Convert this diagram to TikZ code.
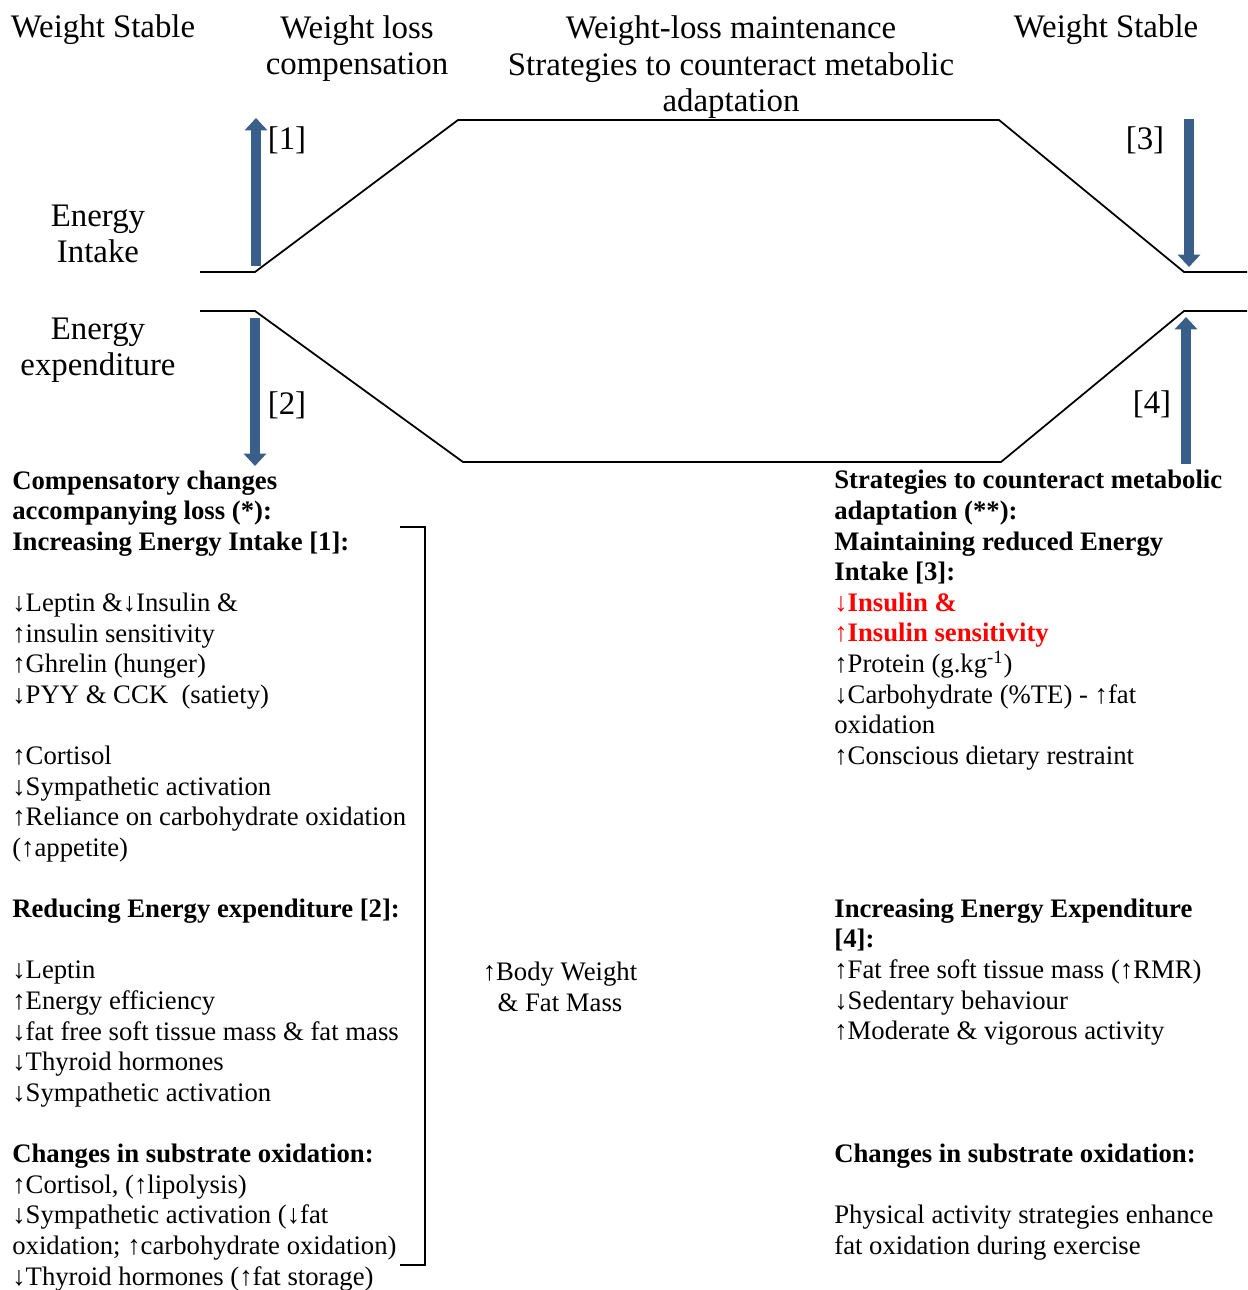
\documentclass[tikz,border=0pt]{standalone}
\usepackage{fontspec}
\setmainfont{Liberation Serif}
\usepackage{xcolor}
\usetikzlibrary{arrows.meta, positioning}
\definecolor{barblue}{RGB}{58,94,138}
\definecolor{hired}{RGB}{255,0,0}
\tikzset{
    head/.style={font=\fontsize{18.7}{21}\selectfont, align=center, inner sep=0pt}, % column heads and side labels
    body/.style={font=\fontsize{15.2}{17.42}\selectfont, align=left, inner sep=0pt, anchor=base west}, % the two lists (base = last line)
    level/.style={line width=1pt, black}, % intake / expenditure levels
    shiftarrow/.style={line width=5.5pt, barblue, -{Triangle[width=12.5pt,length=7pt]}}, % blue arrows
}

\begin{document}
\begin{tikzpicture}[x=0.02cm, y=-0.02cm]
    \useasboundingbox (0,0) rectangle (1247,1290);

    % Heads (placed by the baseline of their last line)
    \node[head, anchor=base] (ws1) at (103,38) {Weight Stable};
    \node[head, anchor=base] (wlc) at (357,75) {Weight loss\\compensation};
    \node[head, anchor=base] (wlm) at (731,112) {Weight-loss maintenance\\Strategies to counteract metabolic\\adaptation};
    \node[head, anchor=base] (ws2) at (1106,38) {Weight Stable};
    \node[head, anchor=base] (ei) at (98,263) {Energy\\Intake};
    \node[head, anchor=base] (ee) at (98,376) {Energy\\expenditure};

    % Levels
    \coordinate (i0) at (200,272);
    \coordinate (i1) at (255,272);
    \coordinate (i2) at (458,120);
    \coordinate (i3) at (999,120);
    \coordinate (i4) at (1184,272);
    \coordinate (i5) at (1247,272);
    \coordinate (e0) at (200,311);
    \coordinate (e1) at (255,311);
    \coordinate (e2) at (463,462);
    \coordinate (e3) at (1001,462);
    \coordinate (e4) at (1184,311);
    \coordinate (e5) at (1247,311);
    \draw[level] (i0) -- (i1) -- (i2) -- (i3) -- (i4) -- (i5);
    \draw[level] (e0) -- (e1) -- (e2) -- (e3) -- (e4) -- (e5);

    % Arrows
    \coordinate (a1s) at (256,266);
    \coordinate (a1e) at (256,118);
    \coordinate (a2s) at (255,318);
    \coordinate (a2e) at (255,466);
    \coordinate (a3s) at (1189,119);
    \coordinate (a3e) at (1189,267);
    \coordinate (a4s) at (1186,464);
    \coordinate (a4e) at (1186,317);
    \draw[shiftarrow] (a1s) -- (a1e);
    \draw[shiftarrow] (a2s) -- (a2e);
    \draw[shiftarrow] (a3s) -- (a3e);
    \draw[shiftarrow] (a4s) -- (a4e);
    \node[head] (n1) at (287,140) {[1]};
    \node[head] (n2) at (287,405) {[2]};
    \node[head] (n3) at (1145,140) {[3]};
    \node[head] (n4) at (1152,404) {[4]};

    % Compensation list
    \node[body] (comp) at (12,1285) {\textbf{Compensatory changes}\\
        \textbf{accompanying loss (*):}\\
        \textbf{Increasing Energy Intake [1]:}\\
        \mbox{}\\
        ↓Leptin \&↓Insulin \&\\
        ↑insulin sensitivity\\
        ↑Ghrelin (hunger)\\
        ↓PYY \& CCK \ (satiety)\\
        \mbox{}\\
        ↑Cortisol\\
        ↓Sympathetic activation\\
        ↑Reliance on carbohydrate oxidation\\
        (↑appetite)\\
        \mbox{}\\
        \textbf{Reducing Energy expenditure [2]:}\\
        \mbox{}\\
        ↓Leptin\\
        ↑Energy efficiency\\
        ↓fat free soft tissue mass \& fat mass\\
        ↓Thyroid hormones\\
        ↓Sympathetic activation\\
        \mbox{}\\
        \textbf{Changes in substrate oxidation:}\\
        ↑Cortisol, (↑lipolysis)\\
        ↓Sympathetic activation (↓fat\\
        oxidation; ↑carbohydrate oxidation)\\
        ↓Thyroid hormones (↑fat storage)};

    % Bracket
    \coordinate (b0) at (400,527);
    \coordinate (b1) at (425,527);
    \coordinate (b2) at (425,1265);
    \coordinate (b3) at (400,1265);
    \draw[level] (b0) -- (b1) -- (b2) -- (b3);

    % Middle
    \node[body, anchor=base, align=center] (bw) at (560,1011) {↑Body Weight\\\& Fat Mass};

    % Strategies list
    \node[body] (strat) at (834,1254) {\textbf{Strategies to counteract metabolic}\\
        \textbf{adaptation (**):}\\
        \textbf{Maintaining reduced Energy}\\
        \textbf{Intake [3]:}\\
        \textcolor{hired}{↓\textbf{Insulin \&}}\\
        \textcolor{hired}{↑\textbf{Insulin sensitivity}}\\
        ↑Protein (g.kg\textsuperscript{-1})\\
        ↓Carbohydrate (\%TE) - ↑fat\\
        oxidation\\
        ↑Conscious dietary restraint\\
        \mbox{}\\
        \mbox{}\\
        \mbox{}\\
        \mbox{}\\
        \textbf{Increasing Energy Expenditure}\\
        \textbf{[4]:}\\
        ↑Fat free soft tissue mass (↑RMR)\\
        ↓Sedentary behaviour\\
        ↑Moderate \& vigorous activity\\
        \mbox{}\\
        \mbox{}\\
        \mbox{}\\
        \textbf{Changes in substrate oxidation:}\\
        \mbox{}\\
        Physical activity strategies enhance\\
        fat oxidation during exercise};
\end{tikzpicture}
\end{document}
